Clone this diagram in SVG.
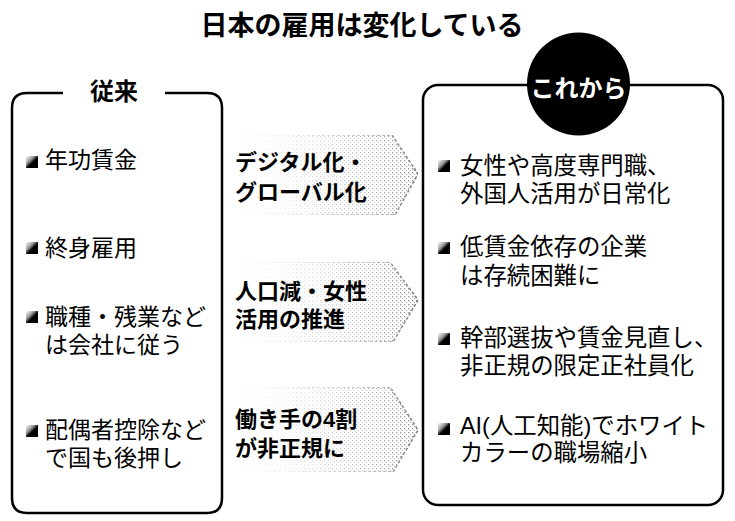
<svg xmlns="http://www.w3.org/2000/svg" width="735" height="521" viewBox="0 0 735 521">
<style>
text{font-family:"Liberation Sans","Noto Sans CJK JP","Noto Sans CJK SC",sans-serif;fill:#000}
.title{font-size:27px;font-weight:bold}
.head{font-size:24px;font-weight:bold}
.item{font-size:23px}
.ritem{font-size:23.4px}
.mid{font-size:22px;font-weight:bold}
.box{fill:none;stroke:#000;stroke-width:2.5}
.arrow{fill:url(#dots);stroke:#777;stroke-width:1.5;stroke-dasharray:3 2}
</style>
<defs>
<linearGradient id="bul" x1="0" y1="0" x2="1" y2="1">
<stop offset="0" stop-color="#fff"/>
<stop offset="0.35" stop-color="#999"/>
<stop offset="0.55" stop-color="#000"/>
<stop offset="1" stop-color="#000"/>
</linearGradient>
<pattern id="dots" width="4" height="4" patternUnits="userSpaceOnUse">
<rect x="0" y="0" width="1.3" height="1.3" fill="#888"/>
<rect x="2" y="2" width="1" height="1" fill="#aaa"/>
</pattern>
<linearGradient id="fade" x1="0" y1="0" x2="1" y2="0">
<stop offset="0" stop-color="#fff" stop-opacity="0"/>
<stop offset="0.3" stop-color="#fff" stop-opacity="0.15"/>
<stop offset="0.75" stop-color="#fff" stop-opacity="0.6"/>
<stop offset="1" stop-color="#fff" stop-opacity="1"/>
</linearGradient>
<mask id="m" maskContentUnits="objectBoundingBox">
<rect x="0" y="0" width="1" height="1" fill="url(#fade)"/>
</mask>
<rect id="b" width="12" height="12" fill="url(#bul)"/>
</defs>
<rect width="735" height="521" fill="#fff"/>

<g id="title">
<text class="title" x="362" y="35" text-anchor="middle">日本の雇用は変化している</text>
</g>

<g id="connectors">
<g mask="url(#m)">
<polygon class="arrow" points="232,135 392,135 418,174 395,215 232,215"/>
</g>
<g mask="url(#m)">
<polygon class="arrow" points="232,262 390,262 418,300 393,342 232,342"/>
</g>
<g mask="url(#m)">
<polygon class="arrow" points="232,387 390,387 418,430 393,472 232,472"/>
</g>
</g>

<g id="left">
<path class="box" d="M63 93 H27 Q12 93 12 108 V498 Q12 513 27 513 H207 Q222 513 222 498 V108 Q222 93 207 93 H165"/>
<text class="head" x="114" y="100" text-anchor="middle">従来</text>
<use href="#b" x="26" y="156"/>
<text class="item" x="45" y="168">年功賃金</text>
<use href="#b" x="26" y="242"/>
<text class="item" x="45" y="256">終身雇用</text>
<use href="#b" x="26" y="311"/>
<text class="item" x="45" y="325">職種・残業など<tspan x="45" dy="28">は会社に従う</tspan></text>
<use href="#b" x="26" y="425"/>
<text class="item" x="45" y="438">配偶者控除など<tspan x="45" dy="28">で国も後押し</tspan></text>
</g>

<g id="mid1">
<text class="mid" x="235" y="170">デジタル化・<tspan x="235" dy="30">グローバル化</tspan></text>
</g>
<g id="mid2">
<text class="mid" x="235" y="299">人口減・女性<tspan x="235" dy="28">活用の推進</tspan></text>
</g>
<g id="mid3">
<text class="mid" x="235" y="427">働き手の4割<tspan x="235" dy="29">が非正規に</tspan></text>
</g>

<g id="right">
<rect class="box" x="423" y="85" width="300" height="420" rx="15" ry="15"/>
<circle cx="578.5" cy="84" r="51.5" fill="#000"/>
<text class="head" x="578.5" y="97" text-anchor="middle" style="fill:#fff">これから</text>
<use href="#b" x="438" y="160"/>
<text class="ritem" x="460" y="174">女性や高度専門職、<tspan x="460" dy="28">外国人活用が日常化</tspan></text>
<use href="#b" x="438" y="242"/>
<text class="ritem" x="460" y="255">低賃金依存の企業<tspan x="460" dy="29">は存続困難に</tspan></text>
<use href="#b" x="438" y="333"/>
<text class="ritem" x="460" y="346">幹部選抜や賃金見直し、<tspan x="460" dy="28">非正規の限定正社員化</tspan></text>
<use href="#b" x="438" y="423"/>
<text class="ritem" x="460" y="434">AI(人工知能)でホワイト<tspan x="460" dy="27">カラーの職場縮小</tspan></text>
</g>
</svg>
